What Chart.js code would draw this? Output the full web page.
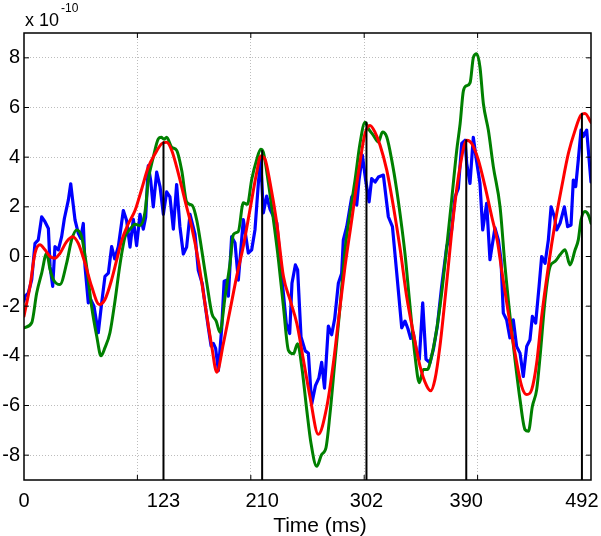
<!DOCTYPE html>
<html>
<head>
<meta charset="utf-8">
<script src="https://cdn.jsdelivr.net/npm/chart.js@4"></script>
<style>
  body { margin: 0; background: #fff; }
</style>
</head>
<body>
<canvas id="grafico" width="601" height="536"></canvas>
<script>
// tiempos (ms) y valores (x 10^-10)
const azulT = [0, 1, 3.8, 6.8, 9.7, 12.6, 15.6, 18.5, 21.5, 23, 25.3, 27.3, 30.3, 33.2, 35.6, 39.1, 41.2, 42.9, 45, 47.9, 50, 52.3, 53.8, 56.7, 58.8, 61.7, 65.5, 68.5, 71.4, 74.4, 77.3, 80, 83.2, 87.6, 90.5, 93.5, 96.4, 99.3, 102.3, 105.2, 107.3, 109.6, 111.7, 114, 117, 120, 122.9, 125.8, 128.7, 131.7, 134.6, 137.5, 140.5, 143.4, 146.4, 150.8, 153.7, 157.2, 159.6, 162.5, 165, 167, 169, 171.4, 174.3, 176.5, 178.6, 180.2, 183.1, 186.1, 189, 193.4, 197.8, 200.8, 203.7, 206.7, 208.7, 211.1, 214, 217, 219.9, 222.9, 227.3, 231.3, 234.3, 236.3, 239.3, 241.3, 244.3, 248, 250.8, 253.7, 257, 260, 262.5, 265, 268.4, 271.3, 274, 277.2, 280.1, 281.6, 284.6, 289, 291.9, 293.4, 295.4, 298.4, 301.3, 304.3, 306.6, 309.6, 312.5, 316.9, 321.3, 324.9, 328.7, 333.1, 336, 338.5, 341, 343.3, 346.3, 348.6, 351.6, 354.5, 358, 361, 364.5, 368.3, 372.8, 377.1, 380.1, 383, 386, 388.9, 390.4, 393.3, 396.2, 398.6, 402.1, 404.5, 408, 410.9, 415.3, 418.3, 420.6, 422.7, 425.6, 428.5, 431.5, 434.4, 437.4, 440.3, 443.3, 446.2, 448.3, 451.2, 454.2, 456.5, 459.5, 462.4, 464.8, 467.7, 469.7, 472.7, 476.5, 479.4, 482.4, 484.4, 486.5, 488.8, 491.2, 493.2, 496.2, 500];
const azulY = [-1.8, -1.6, -1.47, -0.93, 0.53, 0.67, 1.6, 1.4, 1.13, -0.4, -1.2, 0.4, 0.27, 0.8, 1.53, 2.27, 2.93, 2.27, 1.47, 0.93, 0.73, 1.33, -0.4, -1.87, -1.73, -2.0, -3.07, -1.87, -0.8, -0.67, 0.4, -0.1, 0.4, 1.85, 1.45, 0.38, 1.5, 0.44, 1.7, 1.1, 1.58, 3.66, 3.06, 2.0, 3.4, 2.8, 1.7, 2.6, 2.4, 1.1, 2.9, 1.2, 0.1, 0.38, 1.7, 0.9, -0.56, -1.1, -1.9, -2.85, -3.6, -3.5, -3.7, -4.6, -2.9, -1.0, -0.96, -1.6, 0.8, 0.54, -0.95, 1.49, 0.14, 0.27, 1.08, 2.97, 3.9, 1.76, 2.43, 1.9, 1.62, 1.35, -0.8, -2.7, -3.1, -1.08, -0.34, -0.54, -3.24, -3.8, -3.9, -5.95, -5.2, -4.9, -4.26, -5.3, -2.8, -3.15, -2.5, -1.08, -0.68, 0.67, 1.2, 2.4, 2.54, 2.07, 3.07, 4.08, 3.07, 2.2, 3.14, 3.0, 3.2, 3.28, 1.6, 1.2, -0.67, -2.87, -2.6, -2.9, -3.3, -3.07, -3.88, -4.14, -1.87, -4.14, -4.28, -3.74, -2.8, -1.2, 0.4, 1.07, 2.4, 2.74, 4.55, 4.68, 3.74, 2.94, 4.8, 4.0, 2.94, 1.07, 2.14, -0.13, 1.15, 0.67, -0.13, -2.28, -2.55, -3.28, -2.55, -3.62, -3.89, -4.83, -3.62, -3.35, -2.41, -2.68, -1.2, 0, -0.27, 0.67, 2.0, 1.6, 1.07, 1.34, 2.0, 1.2, 1.27, 3.08, 2.81, 3.89, 5.09, 4.83, 5.09, 3.0];

const verdeT = [0, 6.8, 11.2, 15.6, 20, 23, 25.9, 31.7, 37.6, 42, 46.4, 50.8, 55.2, 59.6, 64.1, 67.9, 71.4, 75.8, 80.2, 84.7, 89, 93.5, 97.9, 102.3, 106.7, 109.6, 114, 118.5, 121, 123.5, 125.8, 130.3, 134.7, 139.1, 143.5, 148.5, 152.4, 156.8, 161.3, 165.7, 169.5, 172.8, 177.3, 181.7, 184.6, 189, 193.4, 197, 200.8, 205.2, 208.7, 211.1, 215.5, 219.9, 224.4, 228.8, 233.2, 237.6, 241.2, 245, 249.4, 253, 258.1, 262.5, 266.3, 269.8, 274.2, 278.7, 283.1, 287.5, 291.9, 296.3, 300.7, 303.7, 308.1, 312.5, 316.1, 319.9, 324.3, 328.7, 333.1, 336, 340.4, 344.8, 348.6, 352.2, 355.7, 359.5, 363.9, 368.3, 372.8, 377.1, 381.6, 384.6, 387.5, 390.4, 393.4, 396.3, 399.2, 402.1, 405.1, 409.5, 413.9, 419.8, 424.2, 428.6, 433, 437.4, 441.8, 444.8, 448.3, 452.1, 455.1, 459.5, 463.9, 468.3, 472.7, 477.1, 481.5, 486, 488.8, 491.2, 494.7, 497.6, 500];
const verdeY = [-2.87, -2.67, -1.47, -0.67, 0.13, -0.53, -0.93, -1.13, -0.27, 0.67, 1.07, 0.8, -0.4, -2.0, -3.2, -4.0, -3.67, -3.07, -1.8, -0.3, 0.78, 1.1, 1.3, 1.25, 1.79, 3.06, 4.0, 4.74, 4.8, 4.72, 4.8, 4.4, 4.27, 3.46, 2.19, 2.05, 1.45, 0.24, -1.1, -2.3, -2.6, -3.05, -1.62, -0.27, 0.88, 1.01, 2.16, 2.1, 3.1, 3.9, 4.32, 4.19, 2.97, 1.49, -0.14, -2.03, -3.78, -3.92, -3.51, -4.46, -6.2, -7.5, -8.45, -7.97, -7.7, -6.35, -4.19, -2.03, 0.27, 1.74, 3.07, 4.55, 5.41, 5.15, 4.88, 4.61, 5.01, 4.81, 3.88, 2.67, 1.2, 0.1, -2.0, -4.0, -5.08, -4.55, -4.55, -4.0, -2.94, -1.47, 0.4, 2.27, 4.28, 5.35, 6.68, 6.88, 7.0, 8.02, 8.16, 7.62, 6.15, 5.08, 3.61, 2.0, -0.4, -2.41, -4.16, -5.76, -6.97, -7.04, -6.03, -5.36, -4.02, -1.74, -0.4, -0.2, 0.07, 0.27, -0.34, 0.27, 0.67, 1.47, 1.81, 1.68, 1.34];

const rojoT = [0, 5.3, 9.7, 14.1, 18.5, 23, 27.3, 31.7, 37.6, 42.9, 47.9, 53.8, 59.6, 66.4, 71.4, 77.3, 83.2, 86.1, 92, 97.9, 103.8, 109.6, 115.5, 121.4, 125.8, 130.3, 136.2, 142, 147.9, 153.7, 159.6, 165.5, 170, 175.8, 181.7, 187.5, 193.4, 199.3, 205.2, 208.7, 212.5, 217, 222.9, 228.8, 234.7, 240.6, 246.5, 252.4, 259.5, 266.9, 272.8, 277.2, 283.1, 289, 294.8, 300.7, 305.1, 309.5, 314, 319.9, 325.8, 331.7, 337.4, 343.3, 349.2, 355.1, 358.6, 362.4, 366.8, 372.7, 378.6, 384.5, 390.4, 394.8, 400.7, 406.6, 412.5, 417.5, 421.2, 427.1, 433, 438.9, 443.3, 447.7, 452.1, 456.5, 462.4, 468.3, 474.2, 480.1, 486, 491.2, 494.7, 500];
const rojoY = [-2.4, -1.2, 0.13, 0.47, 0.27, 0, -0.07, 0.13, 0.6, 0.8, 0.53, -0.27, -1.2, -1.93, -1.73, -0.93, 0.13, 0.64, 1.32, 1.85, 2.72, 3.6, 4.13, 4.54, 4.6, 4.27, 3.33, 2.25, 1.18, -0.16, -1.9, -3.6, -4.66, -3.51, -2.16, -0.81, 0.41, 1.89, 3.38, 4.05, 3.92, 2.97, 1.35, -0.81, -1.76, -2.7, -4.19, -5.7, -7.16, -6.08, -4.3, -2.6, -0.4, 1.47, 3.34, 4.95, 5.28, 5.01, 4.48, 3.48, 2.0, 0.3, -1.6, -3.07, -4.41, -5.21, -5.41, -4.95, -3.61, -1.07, 1.6, 3.61, 4.68, 4.55, 3.88, 2.81, 1.6, 0.6, -0.54, -2.28, -3.89, -5.23, -5.56, -5.36, -4.29, -2.41, -0.4, 1.34, 2.81, 4.16, 5.09, 5.7, 5.76, 5.4];

// lineas negras verticales: instante y altura
const eventosT = [123, 210, 302, 390, 492];
const eventosY = [4.6, 4.25, 5.4, 4.68, 5.75];

// ejes
const etiquetasX = [0, 123, 210, 302, 390, 492];
const rejillaX = [100, 200, 300, 400];
const ticksY = [-8, -6, -4, -2, 0, 2, 4, 6, 8];

const fuente = "'Liberation Sans', Arial, Helvetica, sans-serif";

function puntos(ts, ys) {
  return ts.map((t, i) => ({ x: t, y: ys[i] }));
}

// order: el numero mas bajo se dibuja encima
const datasets = [
  { data: puntos(azulT, azulY), borderColor: '#0000ff', borderWidth: 3.2, tension: 0, order: 4 },
  { data: puntos(verdeT, verdeY), borderColor: '#008000', borderWidth: 3, cubicInterpolationMode: 'monotone', order: 3 },
  { data: puntos(rojoT, rojoY), borderColor: '#ff0000', borderWidth: 3, cubicInterpolationMode: 'monotone', order: 2 }
];
eventosT.forEach((t, i) => {
  datasets.push({ data: [{ x: t, y: -9 }, { x: t, y: eventosY[i] }], borderColor: '#000000', borderWidth: 2, order: 1 });
});

// marco, marcas interiores y textos
const marco = {
  id: 'marco',
  afterDraw(chart) {
    const ctx = chart.ctx;
    const a = chart.chartArea;
    const sx = chart.scales.x, sy = chart.scales.y;
    ctx.save();
    ctx.strokeStyle = '#000';
    ctx.lineWidth = 1.5;
    ctx.strokeRect(a.left, a.top, a.right - a.left, a.bottom - a.top);
    ctx.lineWidth = 1;
    ctx.beginPath();
    rejillaX.forEach(v => {
      const px = sx.getPixelForValue(v);
      ctx.moveTo(px, a.top); ctx.lineTo(px, a.top + 5);
      ctx.moveTo(px, a.bottom); ctx.lineTo(px, a.bottom - 5);
    });
    ticksY.forEach(v => {
      const py = sy.getPixelForValue(v);
      ctx.moveTo(a.left, py); ctx.lineTo(a.left + 5, py);
      ctx.moveTo(a.right, py); ctx.lineTo(a.right - 5, py);
    });
    ctx.stroke();

    ctx.fillStyle = '#000';
    ctx.textBaseline = 'alphabetic';
    ctx.textAlign = 'left';
    ctx.font = '18px ' + fuente;
    ctx.fillText('x 10', a.left + 1, 26);
    const ancho = ctx.measureText('x 10').width;
    ctx.font = '12px ' + fuente;
    ctx.fillText('-10', a.left + 3 + ancho, 12);

    ctx.font = '21px ' + fuente;
    ctx.textAlign = 'center';
    ctx.fillText('Time (ms)', 320, 532);
    ctx.restore();
  }
};

new Chart(document.getElementById('grafico'), {
  type: 'line',
  data: { datasets: datasets },
  options: {
    responsive: false,
    devicePixelRatio: 1,
    animation: false,
    layout: { padding: { top: 33, right: 10, left: 0, bottom: 0 } },
    elements: {
      point: { radius: 0 },
      line: { borderJoinStyle: 'round', borderCapStyle: 'round', fill: false }
    },
    plugins: { legend: { display: false }, tooltip: { enabled: false } },
    scales: {
      x: {
        type: 'linear',
        min: 0,
        max: 500,
        afterBuildTicks: s => { s.ticks = [0, 100, 123, 200, 210, 300, 302, 390, 400, 492, 500].map(v => ({ value: v })); },
        afterFit: s => { s.height = 56; },
        ticks: {
          autoSkip: false,
          maxRotation: 0,
          padding: 9,
          color: '#000',
          font: { family: fuente, size: 20 },
          callback: v => etiquetasX.includes(v) ? String(v) : ''
        },
        grid: {
          drawTicks: false,
          color: c => rejillaX.includes(c.tick.value) ? '#bdbdbd' : 'rgba(0,0,0,0)',
          lineWidth: 1
        },
        border: { display: false, dash: [1, 2] }
      },
      y: {
        min: -9,
        max: 9,
        afterBuildTicks: s => { s.ticks = ticksY.map(v => ({ value: v })); },
        afterFit: s => { s.width = 24; },
        ticks: {
          padding: 4,
          color: '#000',
          font: { family: fuente, size: 20 }
        },
        grid: { drawTicks: false, color: '#bdbdbd', lineWidth: 1 },
        border: { display: false, dash: [1, 2] }
      }
    }
  },
  plugins: [marco]
});
</script>
</body>
</html>
